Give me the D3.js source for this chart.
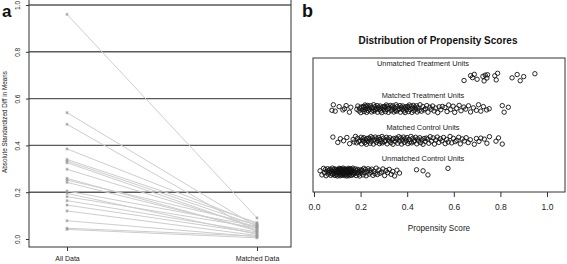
<!DOCTYPE html>
<html>
<head>
<meta charset="utf-8">
<script src="https://cdn.jsdelivr.net/npm/d3@7/dist/d3.min.js"></script>
<style>
  body { margin: 0; background: #fff; }
  svg { display: block; font-family: "Liberation Sans", Arial, sans-serif; }
  .axis text { fill: #222; }
  .axis line { stroke: #333; }
</style>
</head>
<body>
<svg id="chart" width="567" height="264"></svg>
<script>
// ---------- panel a data: absolute standardized difference in means ----------
const sampleNames = ["All Data", "Matched Data"];
const allDataDiff = [0.96, 0.54, 0.49, 0.385, 0.34, 0.333, 0.326, 0.298, 0.259, 0.252,
                     0.242, 0.205, 0.195, 0.181, 0.164, 0.145, 0.12, 0.078, 0.046, 0.041];
const matchedDiff = [0.09, 0.052, 0.03, 0.065, 0.07, 0.058, 0.045, 0.05, 0.035, 0.062,
                     0.04, 0.055, 0.02, 0.048, 0.03, 0.025, 0.015, 0.01, 0.012, 0.005];
const yTicksA = [0, 0.2, 0.4, 0.6, 0.8, 1.0];
const refLinesA = [0.2, 0.4, 0.6, 0.8, 1.0];

// ---------- panel b data: propensity scores per group ----------
const groupNames = ["Unmatched Control Units", "Matched Control Units",
                    "Matched Treatment Units", "Unmatched Treatment Units"];
const unmatchedTreat = [0.644, 0.672, 0.68, 0.688, 0.7, 0.725, 0.73, 0.735, 0.742, 0.745,
                        0.776, 0.782, 0.788, 0.85, 0.872, 0.885, 0.9, 0.948];
const matchedTreat = [0.077, 0.083, 0.091, 0.108, 0.124, 0.131, 0.138, 0.152, 0.158, 0.184,
  0.188, 0.193, 0.196, 0.201, 0.205, 0.207, 0.212, 0.214, 0.215, 0.219, 0.221, 0.223, 0.226,
  0.229, 0.231, 0.233, 0.236, 0.238, 0.243, 0.247, 0.249, 0.253, 0.256, 0.258, 0.262, 0.264,
  0.268, 0.271, 0.273, 0.277, 0.279, 0.284, 0.286, 0.288, 0.291, 0.296, 0.299, 0.302, 0.305,
  0.307, 0.31, 0.313, 0.316, 0.319, 0.322, 0.327, 0.331, 0.334, 0.336, 0.338, 0.343, 0.346,
  0.349, 0.352, 0.354, 0.357, 0.361, 0.366, 0.369, 0.371, 0.374, 0.378, 0.381, 0.386, 0.388,
  0.391, 0.393, 0.397, 0.401, 0.404, 0.406, 0.409, 0.412, 0.417, 0.42, 0.423, 0.426, 0.429,
  0.433, 0.437, 0.44, 0.443, 0.446, 0.451, 0.455, 0.461, 0.467, 0.472, 0.478, 0.484, 0.489,
  0.497, 0.503, 0.509, 0.515, 0.522, 0.531, 0.537, 0.544, 0.551, 0.562, 0.571, 0.578, 0.586,
  0.597, 0.604, 0.612, 0.623, 0.631, 0.643, 0.651, 0.663, 0.672, 0.684, 0.697, 0.706, 0.716,
  0.727, 0.741, 0.752, 0.808, 0.816, 0.834];
const matchedControl = [0.081, 0.102, 0.113, 0.127, 0.141, 0.153, 0.168, 0.172, 0.178, 0.183,
  0.187, 0.192, 0.197, 0.202, 0.204, 0.209, 0.211, 0.214, 0.218, 0.222, 0.225, 0.227, 0.232,
  0.235, 0.239, 0.241, 0.244, 0.246, 0.251, 0.255, 0.259, 0.263, 0.267, 0.27, 0.274, 0.278,
  0.281, 0.283, 0.287, 0.292, 0.294, 0.298, 0.303, 0.306, 0.311, 0.314, 0.318, 0.323, 0.325,
  0.33, 0.335, 0.339, 0.342, 0.348, 0.352, 0.356, 0.359, 0.364, 0.367, 0.372, 0.376, 0.379,
  0.384, 0.387, 0.392, 0.396, 0.399, 0.403, 0.408, 0.411, 0.416, 0.419, 0.424, 0.428, 0.432,
  0.436, 0.441, 0.445, 0.449, 0.454, 0.458, 0.463, 0.468, 0.473, 0.477, 0.482, 0.488, 0.493,
  0.499, 0.504, 0.511, 0.517, 0.523, 0.529, 0.536, 0.542, 0.549, 0.556, 0.563, 0.569, 0.576,
  0.584, 0.591, 0.598, 0.606, 0.613, 0.621, 0.628, 0.636, 0.645, 0.653, 0.662, 0.671, 0.688,
  0.697, 0.708, 0.716, 0.731, 0.742, 0.753, 0.781, 0.792, 0.808];
const unmatchedControl = [0.026, 0.034, 0.041, 0.045, 0.049, 0.052, 0.056, 0.058, 0.061, 0.064,
  0.067, 0.069, 0.072, 0.074, 0.077, 0.079, 0.081, 0.083, 0.085, 0.086, 0.088, 0.09, 0.092,
  0.093, 0.094, 0.096, 0.098, 0.1, 0.101, 0.102, 0.104, 0.105, 0.107, 0.108, 0.109, 0.111,
  0.112, 0.113, 0.114, 0.116, 0.117, 0.118, 0.119, 0.121, 0.122, 0.123, 0.125, 0.126, 0.127,
  0.128, 0.13, 0.131, 0.132, 0.133, 0.135, 0.136, 0.137, 0.138, 0.14, 0.141, 0.142, 0.143,
  0.145, 0.146, 0.147, 0.149, 0.15, 0.151, 0.153, 0.154, 0.155, 0.157, 0.159, 0.16, 0.161,
  0.163, 0.165, 0.167, 0.169, 0.171, 0.174, 0.176, 0.178, 0.181, 0.183, 0.186, 0.188, 0.191,
  0.194, 0.196, 0.199, 0.202, 0.205, 0.208, 0.211, 0.214, 0.217, 0.221, 0.224, 0.228, 0.232,
  0.236, 0.24, 0.244, 0.248, 0.253, 0.257, 0.262, 0.267, 0.272, 0.278, 0.283, 0.29, 0.296,
  0.303, 0.309, 0.316, 0.323, 0.331, 0.338, 0.346, 0.356, 0.367, 0.44, 0.468, 0.489, 0.575];
// vertical jitter (fraction of the jitter band), reused round-robin
const jitterOffsets = [0.3, -0.7, 0.9, -0.2, 0.6, -0.9, 0.1, 0.8, -0.5, 0.4, -0.1, 0.7, -0.8,
  0.2, -0.4, 0.95, -0.6, 0.5, -0.3, 0.0, 0.75, -0.85, 0.35, -0.15, 0.65, -0.55, 0.15, -0.95,
  0.45, -0.25, 0.55];
const xTicksB = [0, 0.2, 0.4, 0.6, 0.8, 1.0];

const svg = d3.select("#chart");

/* ================= panel a ================= */
const a = svg.append("g");
const yA = d3.scaleLinear().domain([0, 1]).range([239, 5]);
const xA = d3.scalePoint().domain(sampleNames).range([67, 257]);
const boxA = { left: 29, right: 291, top: -2, bottom: 247 };

a.selectAll("line.ref").data(refLinesA).join("line")
  .attr("class", "ref")
  .attr("x1", boxA.left).attr("x2", boxA.right)
  .attr("y1", d => yA(d)).attr("y2", d => yA(d))
  .attr("stroke", "#5a5a5a").attr("stroke-width", 1.4);

a.append("rect")
  .attr("x", boxA.left).attr("y", boxA.top)
  .attr("width", boxA.right - boxA.left).attr("height", boxA.bottom - boxA.top)
  .attr("fill", "none").attr("stroke", "#333").attr("stroke-width", 1);

const pairs = allDataDiff.map((v, i) => ({ before: v, after: matchedDiff[i] }));

a.selectAll("line.pair").data(pairs).join("line")
  .attr("class", "pair")
  .attr("x1", xA(sampleNames[0])).attr("x2", xA(sampleNames[1]))
  .attr("y1", d => yA(d.before)).attr("y2", d => yA(d.after))
  .attr("stroke", "#cdcdcd").attr("stroke-width", 1);

const star = d3.symbol().type(d3.symbolAsterisk).size(7);
a.selectAll("path.before").data(allDataDiff).join("path")
  .attr("class", "before")
  .attr("transform", d => `translate(${xA(sampleNames[0])},${yA(d)})`)
  .attr("d", star).attr("stroke", "#999").attr("stroke-width", 0.8).attr("fill", "none");
a.selectAll("path.after").data(matchedDiff).join("path")
  .attr("class", "after")
  .attr("transform", d => `translate(${xA(sampleNames[1])},${yA(d)})`)
  .attr("d", star).attr("stroke", "#999").attr("stroke-width", 0.8).attr("fill", "none");

const yAxisA = a.append("g").attr("class", "axis")
  .attr("transform", `translate(${boxA.left},0)`)
  .call(d3.axisLeft(yA).tickValues(yTicksA).tickFormat(d3.format(".1f")).tickSize(3));
yAxisA.select(".domain").remove();
yAxisA.selectAll("text")
  .attr("transform", "rotate(-90)")
  .attr("x", 0).attr("y", -9).attr("dy", 0)
  .attr("text-anchor", "middle")
  .style("font-size", "6.5px");

const xAxisA = a.append("g").attr("class", "axis")
  .attr("transform", `translate(0,${boxA.bottom})`)
  .call(d3.axisBottom(xA).tickSize(4).tickPadding(5));
xAxisA.select(".domain").remove();
xAxisA.selectAll("text").style("font-size", "7px");

a.append("text")
  .attr("transform", "rotate(-90)")
  .attr("x", -122).attr("y", 7)
  .attr("text-anchor", "middle")
  .style("font-size", "6.3px").attr("fill", "#222")
  .text("Absolute Standardized Diff in Means");

a.append("text").attr("x", 2).attr("y", 17)
  .style("font-size", "17px").style("font-weight", "bold").attr("fill", "#111")
  .text("a");

/* ================= panel b ================= */
const b = svg.append("g");
const xB = d3.scaleLinear().domain([0, 1]).range([314, 547]);
const yB = d3.scaleLinear().domain([0.37, 4.6]).range([192, 58]);
const boxB = { left: 313, right: 565, top: 58, bottom: 192 };
const jitterBand = 0.13;

b.append("rect")
  .attr("x", boxB.left).attr("y", boxB.top)
  .attr("width", boxB.right - boxB.left).attr("height", boxB.bottom - boxB.top)
  .attr("fill", "none").attr("stroke", "#333").attr("stroke-width", 1);

const groupValues = [unmatchedControl, matchedControl, matchedTreat, unmatchedTreat];
const pts = [];
groupValues.forEach((vals, gi) => {
  vals.forEach((v, i) => {
    const j = jitterOffsets[(i + gi * 7) % jitterOffsets.length];
    pts.push({ x: v, y: gi + 1 + j * jitterBand });
  });
});

b.selectAll("circle.pt").data(pts).join("circle")
  .attr("class", "pt")
  .attr("cx", d => xB(d.x)).attr("cy", d => yB(d.y))
  .attr("r", 2.2)
  .attr("fill", "none").attr("stroke", "#111").attr("stroke-width", 0.9);

b.selectAll("text.grp").data(groupNames).join("text")
  .attr("class", "grp")
  .attr("x", (boxB.left + boxB.right) / 2 - 16)
  .attr("y", (d, i) => yB(i + 1 + 0.42))
  .attr("text-anchor", "middle").attr("dy", "0.35em")
  .style("font-size", "7.4px").attr("fill", "#222")
  .text(d => d);

const xAxisB = b.append("g").attr("class", "axis")
  .attr("transform", `translate(0,${boxB.bottom})`)
  .call(d3.axisBottom(xB).tickValues(xTicksB).tickFormat(d3.format(".1f")).tickSize(5).tickPadding(7));
xAxisB.select(".domain").remove();
xAxisB.selectAll("text").style("font-size", "8.5px");

b.append("text")
  .attr("x", (boxB.left + boxB.right) / 2).attr("y", 231)
  .attr("text-anchor", "middle")
  .style("font-size", "8.2px").attr("fill", "#222")
  .text("Propensity Score");

b.append("text")
  .attr("x", 438).attr("y", 44)
  .attr("text-anchor", "middle")
  .style("font-size", "10px").style("font-weight", "bold").attr("fill", "#111")
  .text("Distribution of Propensity Scores");

b.append("text").attr("x", 302).attr("y", 17)
  .style("font-size", "18px").style("font-weight", "bold").attr("fill", "#111")
  .text("b");
</script>
</body>
</html>
